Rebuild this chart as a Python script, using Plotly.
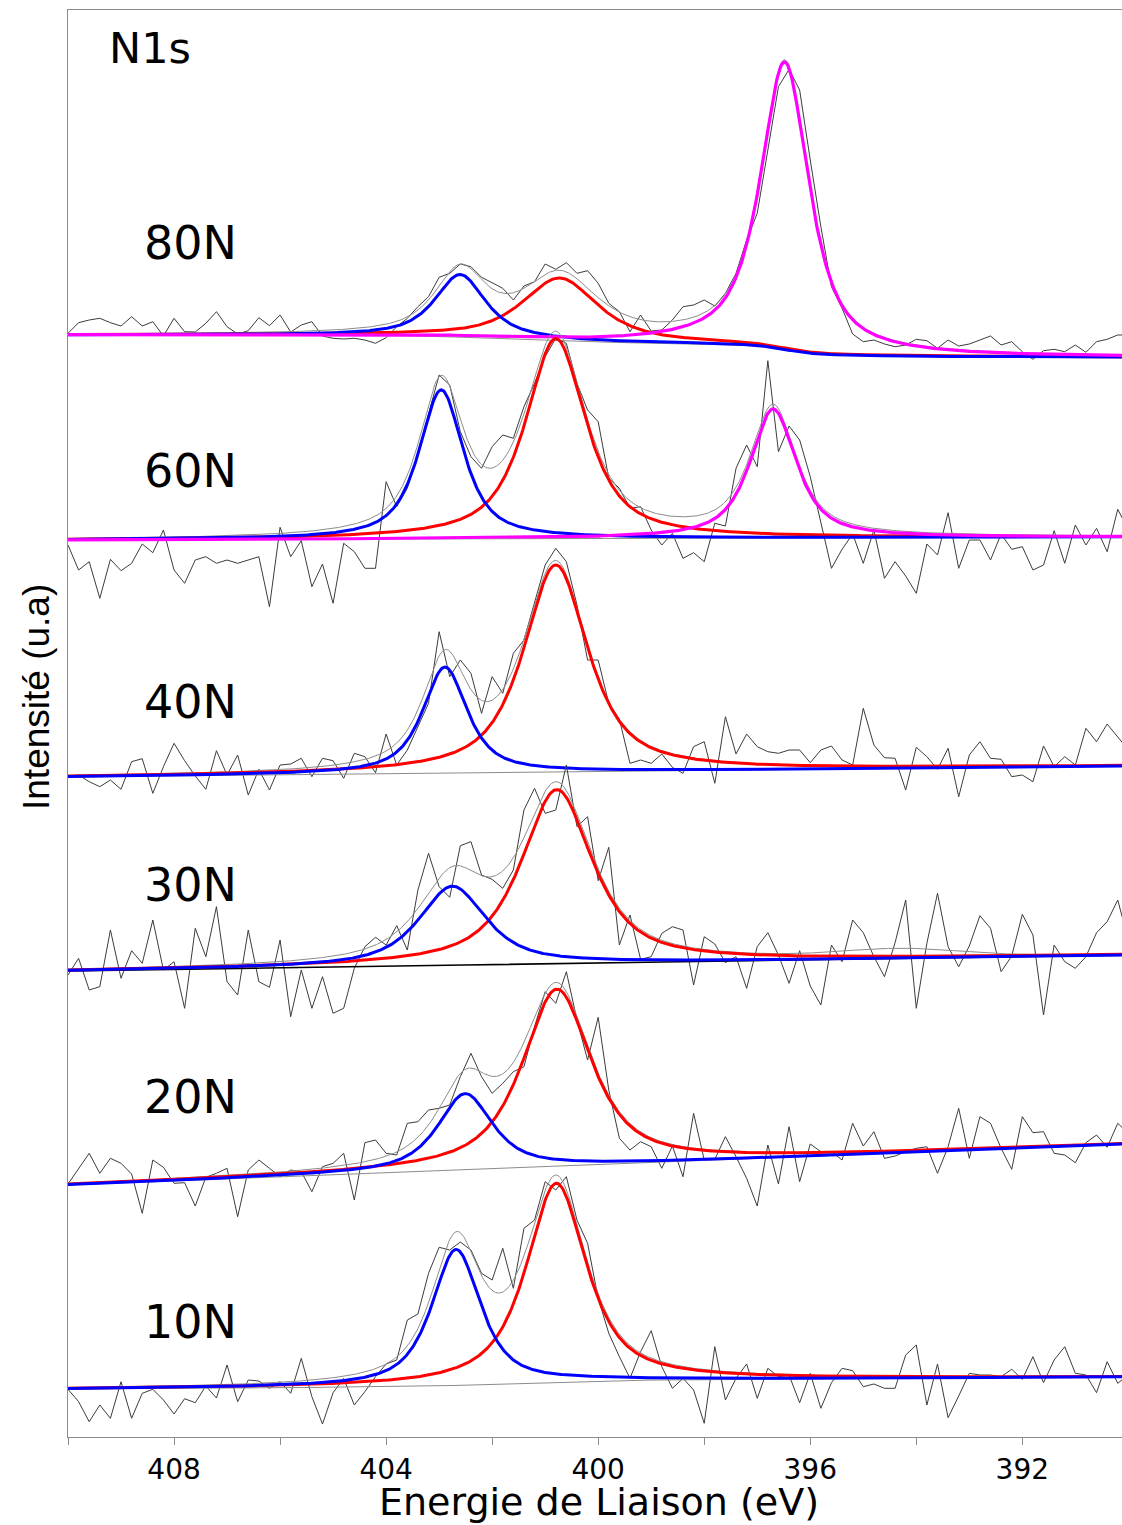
import numpy as np
import plotly.graph_objects as go

# ---------------------------------------------------------------------------
# N1s XPS spectra of the nitrided samples, stacked vertically (arbitrary units)
# ---------------------------------------------------------------------------
samples = ["80N", "60N", "40N", "30N", "20N", "10N"]
stack_offset = [1102, 897, 660, 466, 252, 48]

# measured binding-energy grid (eV), 0.2 eV step
raw_energy = np.round(np.linspace(410.0, 390.0, 101), 1)

raw_80N = [1.7, 12.3, 15, 16.7, 12.3, 9, 18.3, 9, 13.3, -1,
           16.7, 3.3, 3, 11.7, 23.3, 8.3, 1, 4.3, 17.3, 9.3,
           20, 3, 10, 13.3, -1, -3.3, -4, -3.3, -5, -8.3,
           -2.7, 8.3, 16.7, 28.3, 38.3, 57.7, 61.7, 71, 68.3, 57.7,
           52.3, 46.7, 35, 49, 53.3, 71, 65.7, 72.3, 61.7, 64.3,
           51.7, 31.7, 23.3, 3.3, 20, 4, 5, 15, 28.3, 30,
           35, 29, 41.7, 61.7, 95, 121.7, 185, 248.3, 265.7, 245,
           175, 108.3, 48.3, 26.7, 1, -6.7, -5, -9, -11.7, -10,
           -4.3, -5.7, -13.3, -5, -11, -9, -5, -1, -10, -6.7,
           -16.7, -24.3, -15.7, -14.3, -16.7, -10, -17.3, -6.7, -4.3, 0, 0]

raw_60N = [-5, -30, -21.7, -58.3, -19.3, -30.7, -23.3, -4, -12.7, 10,
           -30, -43.3, -20, -16.7, -23.3, -20, -23.3, -20, -16.7, -66.7,
           12.7, -16.7, -0.7, -46.7, -24, -63.3, -3.3, -11.7, -28.3, -28.3,
           58.3, 33.3, 51.7, 86.7, 126.7, 165, 155, 108.3, 83.3, 71.7,
           93.3, 105, 101.7, 133.3, 156.7, 183.3, 201.7, 196.7, 156.7, 130,
           118.3, 61.7, 51.7, 31.7, 33.3, 10, -5, 6.7, -18.3, -12.7,
           -21.7, 16.7, 14, 71.7, 95, 73.3, 179.3, 88.3, 114, 100,
           63.3, 16.7, -28.3, -9.3, 6, -23.3, 10, -38.3, -21.7, -36,
           -53.3, -4, -15, 27.3, -28.3, 0, 0, -20, 6, -9.3,
           -6.7, -30, -25, 9.3, -23.3, 15, -5, 11.7, -11.7, 30.7, 10]

raw_40N = [0.3, 2, -4.7, -9.7, -3, -12.3, 15.3, 18.3, -16.3, 10.3,
           33.7, 16.3, 1, -12.3, 26.3, 2, 22, -18, 7.7, -13,
           12, 13, 18.7, 0.3, 18.7, 16.3, -1.3, 23.7, 20.3, 4.3,
           43, 12, 27, 49.7, 73.7, 145.3, 100.3, 117, 103.7, 63.7,
           100.3, 83.7, 123.7, 137, 173.7, 212, 228.7, 215.3, 172, 117,
           117, 73.7, 57.7, 13.7, 17, 13.7, 23, 9.7, 3.7, 30.3,
           35.3, -6.3, 60.3, 23, 43, 30.3, 25.3, 23.7, 27, 27,
           14.3, 27, 31, 17, 12, 68.7, 32, 19.3, 18.7, -13,
           29.7, 20.3, 7.7, 28.7, -19.7, 22, 35.3, 18.7, 17.7, 0.3,
           2, -4.7, 31, 10.3, 20.3, 12, 48.7, 35.3, 53, 40.3, 27]

raw_30N = [-4, 12.7, -19, -15.7, 41, -7.3, 20.3, 7.7, 51, 1,
           9.3, -37.3, 42.7, 14.3, 64.3, -10.7, -24, 41, -10.7, -16.3,
           31, -45.7, 1, -37.3, -5.7, -42.3, -37.3, 2.7, 24.3, 33.7,
           26, 45.3, 21, 81, 117.7, 84.3, 73.7, 125.3, 129.3, 96,
           91.7, 82.7, 101, 161, 182.7, 157.7, 161, 206, 144.3, 154.3,
           90.3, 123.7, 26, 56, 11.7, 14.3, 37.7, 44.3, 41, -14,
           34.3, 27, 8.3, 14.3, -17.3, 24.3, 38.3, 16, -12.3, 20.3,
           -15, -34, 26, 9.3, 51, 38.3, 14.3, -5.7, 28.3, 71,
           -37.3, 27.7, 77.7, 24.3, 4.3, 25, 55.3, 42.7, -0.7, 15,
           56.7, 36, -44, 26, 9.3, 2.7, 14.3, 38.3, 49.3, 71, 31]

raw_20N = [1, 16.7, 31.7, 11.7, 26.7, 21.7, 11, -28.3, 25, 17.7,
           1.7, 2.3, -21, 7.7, 11.7, 16.7, -31.7, 15, 25, 16.7,
           8.3, 15, 13.3, -6.7, 18.3, 21.7, 31.7, -15, 42.3, 45,
           31.7, 30, 61.7, 63.3, 75, 76.7, 80, 108.3, 131.7, 108.3,
           91.7, 101.7, 113.3, 118.3, 158.3, 193.3, 181.7, 213.3, 165, 125,
           167.7, 95, 46.7, 35, 43.3, 38.3, 16.7, 39, 8.3, 71.7,
           25, 25.7, 48.3, 28.3, 6.7, -21, 40, 1, 58.3, 3.3,
           41, 33.3, 33.3, 25, 61.7, 39, 53.3, 26.7, 29, 33.3,
           36.7, 38.3, 11.7, 38.3, 76.7, 26.7, 68.3, 61.7, 36.7, 15.7,
           68.3, 52.3, 53.3, 31.7, 30, 22.3, 42.3, 50, 37.7, 61.7, 51.7]

raw_10N = [-0.3, -12.7, -32.7, -16, -29.3, 7.3, -29.3, -4.3, -0.3, -11,
           -25, -9.7, -13.7, 3, -9, 24, -12.7, 9, 8, 0.7,
           7.3, -4.3, 30.7, -7.7, -35, -3.7, 10.7, -16, -2.7, 12.3,
           25, 29, 69, 75, 115.7, 141.7, 139, 147, 139, 115.7,
           109, 140.7, 100.7, 160.7, 169, 207.3, 199, 212.3, 169, 145.7,
           90.7, 55.7, 32.3, 10.7, 37.3, 58.3, 22.3, 0.7, 10.7, -1,
           -34.3, 42.3, -11, 10.7, 25, -9.3, 20.7, 12.3, 14, -13.7,
           15.7, -19.3, 6.3, 20.7, 18.3, 2.3, 5, 0.7, 0.7, 34,
           44, -16, 25, -28.7, -7, 15.7, 14, 14, 12.3, 19.7,
           9.7, 32.3, 6.3, 29, 42.3, 15.7, 14, -3.7, 27.3, 5.7, 14]

raw_counts = [raw_80N, raw_60N, raw_40N, raw_30N, raw_20N, raw_10N]

# background: linear rise over the window plus a Shirley-type step
bg_linear = [0, 3, 11, 16, 41, 6]
bg_step = [-22, 0, 0, 0, 0, 6]
bg_colour = ["#8c8c8c", "#8c8c8c", "#8c8c8c", "#000000", "#8c8c8c", "#8c8c8c"]
bg_width = [1, 1, 1, 1.6, 1, 1]

# fitted components (centre eV, height, FWHM eV)
high_center = [402.60, 402.96, 402.89, 402.75, 402.51, 402.68]
high_height = [62.7, 149, 106, 79, 76, 136]
high_fwhm = [1.14, 1.00, 1.00, 1.50, 1.23, 1.10]

mid_center = [400.72, 400.80, 400.80, 400.78, 400.78, 400.79]
mid_height = [62.7, 200, 207, 174, 177, 199]
mid_fwhm = [1.70, 1.35, 1.45, 1.60, 1.55, 1.35]

low_center = [396.48, 396.70, 396.5, 396.5, 396.5, 396.5]
low_height = [288, 129, 0, 0, 0, 0]
low_fwhm = [1.09, 1.04, 1.0, 1.0, 1.0, 1.0]

# weak broad contribution only included in the envelope
broad_center = [394.3, 394.3, 394.3, 394.3, 394.3, 394.3]
broad_height = [0, 0, 0, 7.7, 0, 0]
broad_fwhm = [2.6, 2.6, 2.6, 2.6, 2.6, 2.6]

lorentz_fraction = 0.78

x_ticks = [410, 408, 406, 404, 402, 400, 398, 396, 394, 392, 390]
x_tick_text = ["", "408", "", "404", "", "400", "", "396", "", "392", ""]


def pseudo_voigt(e, c, h, w, eta=lorentz_fraction):
    d = (e - c) / w
    lor = 1.0 / (1.0 + 4.0 * d ** 2)
    gau = np.exp(-4.0 * np.log(2.0) * d ** 2)
    return h * (eta * lor + (1.0 - eta) * gau)


def gaussian(e, c, h, w):
    return h * np.exp(-4.0 * np.log(2.0) * ((e - c) / w) ** 2)


fit_energy = np.linspace(410.0, 390.0, 1001)

fig = go.Figure()

RAW_COL = "#3c3c3c"
ENV_COL = "#8c8c8c"
RED = "#ff0000"
BLUE = "#0000ff"
MAGENTA = "#ff00ff"

for i, name in enumerate(samples):
    off = stack_offset[i]
    p_high = pseudo_voigt(fit_energy, high_center[i], high_height[i], high_fwhm[i])
    p_mid = pseudo_voigt(fit_energy, mid_center[i], mid_height[i], mid_fwhm[i])
    p_low = pseudo_voigt(fit_energy, low_center[i], low_height[i], low_fwhm[i])
    p_broad = gaussian(fit_energy, broad_center[i], broad_height[i], broad_fwhm[i])
    total = p_high + p_mid + p_low + p_broad

    cum = np.cumsum(total)
    bg = bg_linear[i] * (410.0 - fit_energy) / 20.0 + bg_step[i] * cum / cum[-1]

    # measured spectrum
    fig.add_trace(go.Scatter(
        x=raw_energy, y=np.array(raw_counts[i]) + off, mode="lines",
        line=dict(color=RAW_COL, width=1), name=name + " data", showlegend=False))
    # background
    fig.add_trace(go.Scatter(
        x=fit_energy, y=bg + off, mode="lines",
        line=dict(color=bg_colour[i], width=bg_width[i]), showlegend=False))
    # envelope
    fig.add_trace(go.Scatter(
        x=fit_energy, y=bg + total + off, mode="lines",
        line=dict(color=ENV_COL, width=1), showlegend=False))
    # components
    fig.add_trace(go.Scatter(
        x=fit_energy, y=bg + p_mid + off, mode="lines",
        line=dict(color=RED, width=3), showlegend=False))
    fig.add_trace(go.Scatter(
        x=fit_energy, y=bg + p_high + off, mode="lines",
        line=dict(color=BLUE, width=3), showlegend=False))
    if low_height[i] > 0:
        fig.add_trace(go.Scatter(
            x=fit_energy, y=bg + p_low + off, mode="lines",
            line=dict(color=MAGENTA, width=3.2), showlegend=False))

W, H = 1122, 1525
L, R, T, B = 68, 0, 10, 88
pw, ph = W - L - R, H - T - B


def px(x):
    return (x - L) / pw


def py(y):
    return (H - B - y) / ph


annotations = [dict(text="N1s", x=px(150), y=py(48), font=dict(size=43))]
label_rows = [243, 471, 702, 885, 1097, 1322]
for name, yy in zip(samples, label_rows):
    annotations.append(dict(text=name, x=px(190), y=py(yy), font=dict(size=46)))

annotations.append(dict(text="Energie de Liaison (eV)", x=px(599), y=py(1502),
                        font=dict(size=38)))
annotations.append(dict(text="Intensité (u.a)", x=px(36), y=py(697), textangle=-90,
                        font=dict(size=37, family="Liberation Sans, Arial, sans-serif")))

for a in annotations:
    a.update(xref="paper", yref="paper", xanchor="center", yanchor="middle",
             showarrow=False, borderpad=0)
    a["font"].setdefault("family", "DejaVu Sans")
    a["font"]["color"] = "#000000"

fig.update_layout(
    width=W, height=H,
    margin=dict(l=L, r=R, t=T, b=B, pad=0),
    paper_bgcolor="white", plot_bgcolor="white",
    showlegend=False,
    annotations=annotations,
    xaxis=dict(range=[410.0, 390.12], autorange=False,
               showline=True, linecolor="#8c8c8c", linewidth=1, mirror=True,
               ticks="outside", ticklen=7, tickcolor="#8c8c8c", tickwidth=1,
               tickvals=x_ticks, ticktext=x_tick_text,
               tickfont=dict(family="DejaVu Sans", size=28, color="#000000"),
               showgrid=False, zeroline=False),
    yaxis=dict(range=[0, 1427], autorange=False,
               showline=True, linecolor="#8c8c8c", linewidth=1,
               showticklabels=False, ticks="", showgrid=False, zeroline=False),
)

fig.write_html("out.html")
